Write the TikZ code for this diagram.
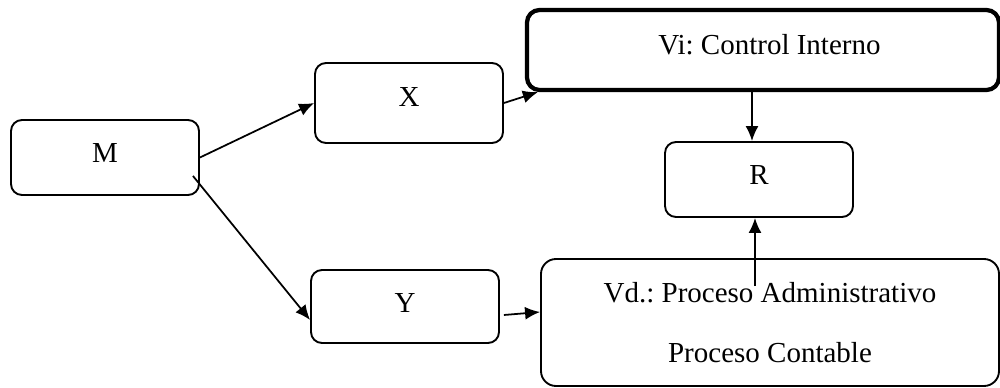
\documentclass[tikz,border=0pt]{standalone}
\usepackage{fontspec}
\setmainfont{Liberation Serif}
\usetikzlibrary{arrows.meta}
\frenchspacing
\begin{document}
\begin{tikzpicture}[x=0.4pt,y=0.4pt,
  box/.style={draw,line width=0.75pt,rounded corners=4.4pt,inner sep=0pt},
  thickbox/.style={draw,line width=1.7pt,rounded corners=5pt,inner sep=0pt},
  lbl/.style={font=\fontsize{11.6}{14}\selectfont,inner sep=0pt},
  conn/.style={line width=0.7pt,-{Latex[length=6pt,width=5.2pt]}}]
\useasboundingbox (0,0) rectangle (1000,387);
\node[box,minimum width=75.2pt,minimum height=30pt] (M) at (105,229.5) {};
\node[box,minimum width=75.2pt,minimum height=32pt] (X) at (409,284) {};
\node[thickbox,minimum width=188.8pt,minimum height=32pt] (Vi) at (763,337) {};
\node[box,minimum width=75.2pt,minimum height=30pt] (R) at (759,207.5) {};
\node[box,minimum width=75.2pt,minimum height=29.2pt] (Y) at (405,80.5) {};
\node[box,rounded corners=6pt,minimum width=183.2pt,minimum height=50.8pt,
  lbl,align=center] (Vd) at (770,64.5) {Vd.: Proceso Administrativo\\[10pt]Proceso Contable};
\node[lbl] (tM) at (105,234) {M};
\node[lbl] (tX) at (409,290) {X};
\node[lbl] (tVi) at (769.5,342) {Vi: Control Interno};
\node[lbl] (tR) at (759,212) {R};
\node[lbl] (tY) at (405,84) {Y};
\draw[conn] (M.east) -- (X.west);
\draw[conn] ([xshift=-2.8pt,yshift=8pt]M.south east) -- ([yshift=-5.4pt]Y.west);
\draw[conn] (X.east) -- ([xshift=5.2pt]Vi.south west);
\draw[conn] ([xshift=1.6pt,yshift=-3.4pt]Y.east) -- ([yshift=4.2pt]Vd.west);
\coordinate (a) at ([xshift=-4.4pt]Vi.south);
\draw[conn] (a) -- (a |- R.north);
\coordinate (b) at ([xshift=-6pt,yshift=-11.2pt]Vd.north);
\draw[conn] (b) -- (b |- R.south);
\end{tikzpicture}
\end{document}
